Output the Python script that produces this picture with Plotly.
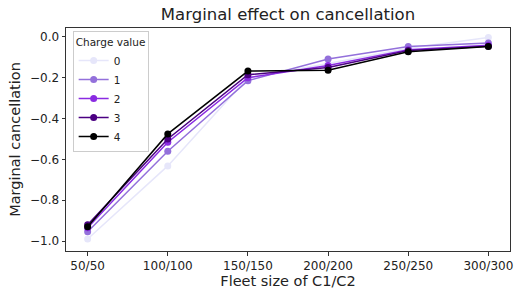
import plotly.graph_objects as go

categories = ["50/50", "100/100", "150/150", "200/200", "250/250", "300/300"]
charge_values = ["0", "1", "2", "3", "4"]
s0 = [-0.99, -0.632, -0.20, -0.13, -0.055, -0.003]
s1 = [-0.955, -0.56, -0.214, -0.108, -0.047, -0.03]
s2 = [-0.935, -0.516, -0.20, -0.14, -0.062, -0.04]
s3 = [-0.92, -0.50, -0.185, -0.15, -0.066, -0.045]
s4 = [-0.93, -0.475, -0.167, -0.163, -0.072, -0.047]
series = [s0, s1, s2, s3, s4]
colors = ["#E6E6FA", "#9370DB", "#8A2BE2", "#4B0082", "#000000"]

fig = go.Figure()
for name, vals, c in zip(charge_values, series, colors):
    fig.add_trace(go.Scatter(
        x=list(range(len(categories))), y=vals, name=name,
        mode="lines+markers",
        line=dict(color=c, width=1.5),
        marker=dict(color=c, size=7),
    ))

axis_common = dict(
    showgrid=False, zeroline=False, showline=True, linecolor="#333333",
    linewidth=1, mirror=True, ticks="outside", ticklen=3.5, tickwidth=1,
    tickcolor="#333333", tickfont=dict(size=12, color="#222222"),
    automargin=False,
)
fig.update_layout(
    width=515, height=291,
    margin=dict(l=66, r=5, t=28, b=40),
    paper_bgcolor="white", plot_bgcolor="white",
    font=dict(family="DejaVu Sans", color="#222222"),
    title=dict(text="Marginal effect on cancellation", xref="paper", x=0.5, xanchor="center",
               y=0.972, yanchor="top", font=dict(size=16.5, color="#222222")),
    xaxis=dict(**axis_common, tickmode="array",
               tickvals=list(range(len(categories))), ticktext=categories,
               range=[-0.27, 5.27],
               title=dict(text="Fleet size of C1/C2", font=dict(size=14.5), standoff=2)),
    yaxis=dict(**axis_common, range=[-1.049, 0.044], tickvals=[0, -0.2, -0.4, -0.6, -0.8, -1.0],
               tickformat=".1f",
               title=dict(text="Marginal cancellation", font=dict(size=14.5), standoff=5)),
    legend=dict(x=0.015, y=0.985, xanchor="left", yanchor="top",
                bgcolor="rgba(255,255,255,0.8)", bordercolor="#cccccc", borderwidth=1,
                font=dict(size=10.5), title=dict(text="Charge value", font=dict(size=10.5)),
                itemwidth=30, tracegroupgap=0),
    showlegend=True,
)
fig.write_html("out.html", config={"displayModeBar": False},
               post_script="document.body.style.margin='0';document.body.style.padding='0';")
